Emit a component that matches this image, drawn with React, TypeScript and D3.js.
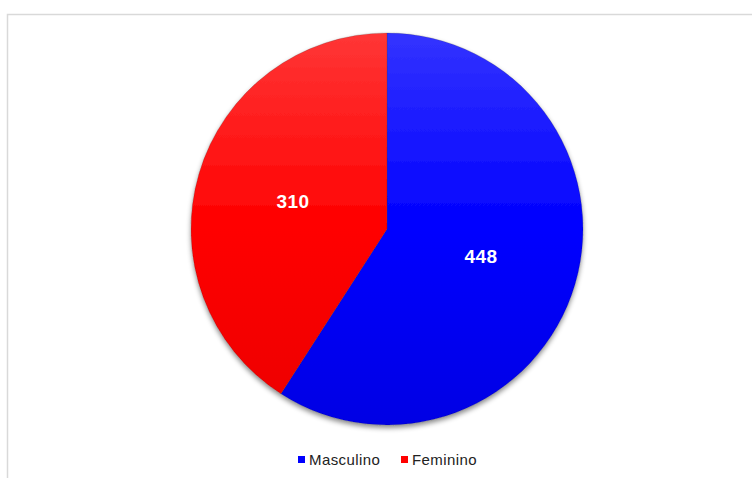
import { useRef, useEffect } from "react";
import * as d3 from "d3";

const categories = ["Masculino", "Feminino"];
const values = [448, 310];
const colors = ["#0000ff", "#ff0000"];
const lightColors = ["#3333ff", "#ff3636"];
const darkColors = ["#0000e4", "#ec0000"];

const width = 752;
const height = 478;

export default function App() {
  const svgRef = useRef(null);

  useEffect(() => {
    const svg = d3.select(svgRef.current);
    svg.selectAll("*").remove();
    svg.attr("width", width).attr("height", height);

    const radius = 196;
    const cx = 387;
    const cy = 229;

    const defs = svg.append("defs");
    categories.forEach((c, i) => {
      const g = defs
        .append("linearGradient")
        .attr("id", "grad" + i)
        .attr("gradientUnits", "userSpaceOnUse")
        .attr("x1", 0)
        .attr("y1", -radius)
        .attr("x2", 0)
        .attr("y2", radius);
      g.append("stop").attr("offset", "0%").attr("stop-color", lightColors[i]);
      g.append("stop").attr("offset", "50%").attr("stop-color", colors[i]);
      g.append("stop").attr("offset", "100%").attr("stop-color", darkColors[i]);
    });
    const f = defs
      .append("filter")
      .attr("id", "shadow")
      .attr("x", "-10%")
      .attr("y", "-10%")
      .attr("width", "120%")
      .attr("height", "120%");
    f.append("feDropShadow")
      .attr("dx", 0)
      .attr("dy", 3)
      .attr("stdDeviation", 2.5)
      .attr("flood-color", "#000")
      .attr("flood-opacity", 0.45);

    // frame
    svg
      .append("rect")
      .attr("x", 7.5)
      .attr("y", 14.5)
      .attr("width", 780)
      .attr("height", 500)
      .attr("fill", "#fff")
      .attr("stroke", "#d9d9d9")
      .attr("stroke-width", 1.5);

    const pie = d3.pie<number>().sort(null).value((d) => d);
    const arcs = pie(values);
    const arc = d3.arc<any>().innerRadius(0).outerRadius(radius);

    const g = svg.append("g").attr("transform", `translate(${cx},${cy})`);

    g.append("g")
      .attr("filter", "url(#shadow)")
      .selectAll("path")
      .data(arcs)
      .join("path")
      .attr("d", arc)
      .attr("fill", (d, i) => `url(#grad${i})`)
      .attr("stroke", "rgba(60,60,60,0.35)")
      .attr("stroke-width", 0.6);

    g.selectAll("text")
      .data(arcs)
      .join("text")
      .attr("transform", (d) => {
        const [x, y] = arc.centroid(d);
        return `translate(${x},${y})`;
      })
      .attr("text-anchor", "middle")
      .attr("dominant-baseline", "central")
      .attr("fill", "#fff")
      .attr("font-family", "Liberation Sans, Arial, sans-serif")
      .attr("font-weight", "bold")
      .attr("font-size", "19px")
      .attr("letter-spacing", "0.5px")
      .text((d) => d.data);

    // legend
    const legend = svg
      .append("g")
      .attr("font-family", "Liberation Sans, Arial, sans-serif")
      .attr("font-size", "15px")
      .attr("letter-spacing", "0.4px");
    const legendX = [298, 401];
    categories.forEach((c, i) => {
      legend
        .append("rect")
        .attr("x", legendX[i])
        .attr("y", 456)
        .attr("width", 7)
        .attr("height", 7)
        .attr("fill", colors[i]);
      legend
        .append("text")
        .attr("x", legendX[i] + 11)
        .attr("y", 465)
        .attr("fill", "#222")
        .text(c);
    });
  }, []);

  return (
    <div style={{ position: "absolute", left: 0, top: 0 }}>
      <svg ref={svgRef} style={{ display: "block" }} />
    </div>
  );
}
